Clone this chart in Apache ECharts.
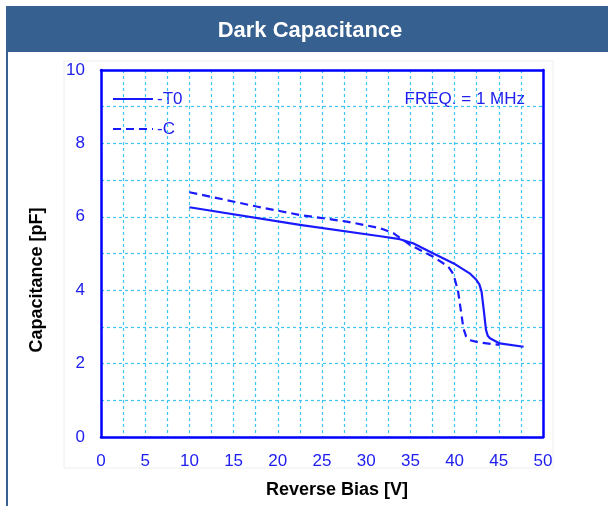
<!DOCTYPE html>
<html>
<head>
<meta charset="utf-8">
<script src="https://cdn.jsdelivr.net/npm/echarts@6/dist/echarts.min.js"></script>
<style>html,body{margin:0;padding:0;background:#fff}#c{width:608px;height:506px}</style>
</head>
<body>
<div id="c"></div>
<script>
// Data
var xT0 = [10, 22.5, 31.6, 33.8, 35.3, 37.6, 39.9, 41.7, 42.4, 42.8, 43.05, 43.3, 43.55, 43.75, 44.0, 45.1, 47.8];
var yT0 = [6.26, 5.78, 5.47, 5.39, 5.28, 5.0, 4.73, 4.46, 4.3, 4.16, 3.96, 3.46, 2.92, 2.76, 2.69, 2.55, 2.46];
var xC = [10, 17.6, 22.5, 27.8, 31.6, 33.1, 35.0, 37.6, 39.3, 39.75, 40.05, 40.4, 40.7, 41.0, 41.3, 41.7, 42.9, 45.1];
var yC = [6.67, 6.28, 6.05, 5.87, 5.69, 5.55, 5.23, 4.91, 4.64, 4.48, 4.28, 3.96, 3.46, 2.96, 2.74, 2.64, 2.57, 2.51];
var xTicks = [0, 5, 10, 15, 20, 25, 30, 35, 40, 45, 50];
var yTicks = [0, 2, 4, 6, 8, 10];
var seriesNames = ['-T0', '-C'];
var titleText = 'Dark Capacitance';
var xTitle = 'Reverse Bias [V]';
var yTitle = 'Capacitance [pF]';
var noteText = 'FREQ. = 1 MHz';

function pairs(xs, ys) { return xs.map(function (x, i) { return [x, ys[i]]; }); }

var FONT = '"Liberation Sans", Arial, sans-serif';
var BLUE = '#1a1aff';
var TXT = '#2020ee';
var GRIDC = '#40c4f0';
var HEAD = '#36608f';

var chart = echarts.init(document.getElementById('c'), null, {renderer: 'canvas'});
var splitStyle = {show: true, lineStyle: {color: GRIDC, type: [3, 3], width: 1.2}};
chart.setOption({
  animation: false,
  backgroundColor: '#fff',
  grid: {left: 101, right: 65, top: 70, bottom: 69, containLabel: false},
  xAxis: [{
    type: 'value', min: xTicks[0], max: xTicks[xTicks.length - 1], interval: 5,
    axisLine: {show: true, onZero: false, lineStyle: {color: '#0000ff', width: 2.5}},
    axisTick: {show: false},
    minorTick: {show: false, splitNumber: 2},
    splitLine: splitStyle,
    minorSplitLine: splitStyle,
    axisLabel: {color: TXT, fontSize: 17, fontFamily: FONT, margin: 16}
  }, {
    type: 'value', position: 'top', min: 0, max: 50,
    axisLine: {show: true, onZero: false, lineStyle: {color: '#0000ff', width: 2.5}},
    axisTick: {show: false}, axisLabel: {show: false}, splitLine: {show: false}
  }],
  yAxis: [{
    type: 'value', min: yTicks[0], max: yTicks[yTicks.length - 1], interval: 2,
    axisLine: {show: true, onZero: false, lineStyle: {color: '#0000ff', width: 2.5}},
    axisTick: {show: false},
    minorTick: {show: false, splitNumber: 2},
    splitLine: splitStyle,
    minorSplitLine: splitStyle,
    axisLabel: {color: TXT, fontSize: 17, fontFamily: FONT, margin: 16}
  }, {
    type: 'value', position: 'right', min: 0, max: 10,
    axisLine: {show: true, onZero: false, lineStyle: {color: '#0000ff', width: 2.5}},
    axisTick: {show: false}, axisLabel: {show: false}, splitLine: {show: false}
  }],
  series: [{
    name: seriesNames[0], type: 'line', data: pairs(xT0, yT0), showSymbol: false,
    smooth: false,
    lineStyle: {color: BLUE, width: 2.2, join: 'round'}
  }, {
    name: seriesNames[1], type: 'line', data: pairs(xC, yC), showSymbol: false,
    smooth: false,
    lineStyle: {color: BLUE, width: 2.2, type: [8, 5]}
  }],
  graphic: [
    {type: 'rect', z: -10, shape: {x: 64, y: 61, width: 489, height: 407}, style: {fill: 'none', stroke: '#eeeeee', lineWidth: 1}},
    {type: 'rect', shape: {x: 6, y: 6, width: 602, height: 46}, style: {fill: HEAD}},
    {type: 'rect', shape: {x: 6, y: 6, width: 2, height: 500}, style: {fill: HEAD}},
    {type: 'text', x: 310, y: 31, style: {text: titleText, fill: '#fff', font: 'bold 22px ' + FONT, textAlign: 'center', textVerticalAlign: 'middle'}},
    {type: 'text', x: 337, y: 490, style: {text: xTitle, fill: '#000', font: 'bold 18px ' + FONT, textAlign: 'center', textVerticalAlign: 'middle'}},
    {type: 'text', x: 37, y: 280, rotation: Math.PI / 2, style: {text: yTitle, fill: '#000', font: 'bold 18px ' + FONT, textAlign: 'center', textVerticalAlign: 'middle'}},
    {type: 'line', shape: {x1: 113, y1: 99, x2: 153, y2: 99}, style: {stroke: BLUE, lineWidth: 2.2}},
    {type: 'text', x: 157, y: 99, style: {text: seriesNames[0], fill: TXT, font: '17px ' + FONT, textVerticalAlign: 'middle'}},
    {type: 'line', shape: {x1: 113, y1: 129, x2: 153, y2: 129}, style: {stroke: BLUE, lineWidth: 2.2, lineDash: [8, 5]}},
    {type: 'text', x: 157, y: 129, style: {text: seriesNames[1], fill: TXT, font: '17px ' + FONT, textVerticalAlign: 'middle'}},
    {type: 'text', x: 525, y: 99, style: {text: noteText, fill: TXT, font: '17px ' + FONT, textAlign: 'right', textVerticalAlign: 'middle'}}
  ]
});
</script>
</body>
</html>
